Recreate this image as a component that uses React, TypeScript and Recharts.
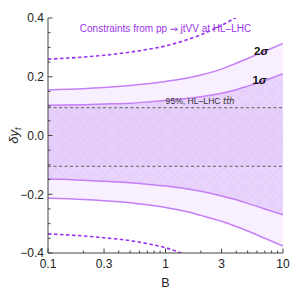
import React from 'react';
import {
  ComposedChart, Area, Line, XAxis, YAxis, ReferenceLine, ReferenceArea, ReferenceDot, Label,
} from 'recharts';

// ---- data ----
const B = [0.1, 0.2, 0.3, 0.5, 0.7, 1, 1.5, 2, 3, 4, 5, 7, 10];
const oneSigmaUpper = [0.103, 0.105, 0.107, 0.110, 0.114, 0.119, 0.126, 0.132, 0.144, 0.156, 0.168, 0.187, 0.210];
const oneSigmaLower = [-0.148, -0.152, -0.156, -0.161, -0.166, -0.172, -0.181, -0.190, -0.206, -0.219, -0.231, -0.250, -0.270];
const twoSigmaUpper = [0.155, 0.159, 0.163, 0.170, 0.176, 0.184, 0.195, 0.206, 0.226, 0.246, 0.262, 0.287, 0.313];
const twoSigmaLower = [-0.214, -0.218, -0.222, -0.229, -0.236, -0.245, -0.259, -0.272, -0.292, -0.310, -0.325, -0.350, -0.376];

const dashedUpperB = [0.1, 0.2, 0.3, 0.5, 0.7, 1, 1.5, 2, 3, 4];
const dashedUpperY = [0.260, 0.267, 0.273, 0.284, 0.293, 0.305, 0.325, 0.343, 0.375, 0.402];
const dashedLowerB = [0.1, 0.2, 0.3, 0.5, 0.7, 1, 1.4];
const dashedLowerY = [-0.335, -0.342, -0.348, -0.358, -0.368, -0.382, -0.402];

const tthUpper = 0.095;
const tthLower = -0.105;

const xMajorTicks = [0.1, 0.3, 1, 3, 10];
const xMinorTicks = [0.2, 0.4, 0.5, 0.6, 0.7, 0.8, 0.9, 2, 4, 5, 6, 7, 8, 9];
const yMajorTicks = [-0.4, -0.2, 0, 0.2, 0.4];
const yMinorTicks = [-0.35, -0.3, -0.25, -0.15, -0.1, -0.05, 0.05, 0.1, 0.15, 0.25, 0.3, 0.35];

const titleBefore = 'Constraints from pp ';
const titleArrow = '\u2192';
const titleAfter = ' jtVV at HL\u2013LHC';
const tthLabel = '95%, HL\u2013LHC ';

// ---- tables built from the arrays ----
const bandData = B.map((b, i) => ({
  B: b,
  hi1: oneSigmaUpper[i],
  lo1: oneSigmaLower[i],
  hi2: twoSigmaUpper[i],
  lo2: twoSigmaLower[i],
}));
const upperDashedData = dashedUpperB.map((b, i) => ({ B: b, y: dashedUpperY[i] }));
const lowerDashedData = dashedLowerB.map((b, i) => ({ B: b, y: dashedLowerY[i] }));

const xTicks = [...xMajorTicks, ...xMinorTicks].sort((a, b) => a - b);
const yTicks = [...yMajorTicks, ...yMinorTicks].sort((a, b) => a - b);

// ---- styles ----
const FONT = '"Liberation Sans", Arial, sans-serif';
const AXIS = '#444444';
const PURPLE_TEXT = '#9a35e6';
const PURPLE_DASH = '#9b2ff0';
const LINE = '#c47ef6';
const FILL2 = '#f8f0ff';
const FILL1 = '#e9d4fc';

const isMajor = (v: number, arr: number[]) => arr.some((m) => Math.abs(m - v) < 1e-9);
const fmtX = (v: number) => (v < 1 ? v.toFixed(1) : String(v));
const fmtY = (v: number) => {
  const s = Math.abs(v).toFixed(1);
  return v < -1e-9 ? '\u2212' + s : s;
};

const BottomTick = (props: any) => {
  const { x, y, payload } = props;
  const major = isMajor(payload.value, xMajorTicks);
  return (
    <g>
      <line x1={x} x2={x} y1={y} y2={y - (major ? 4.5 : 2.5)} stroke={AXIS} strokeWidth={1} />
      {major && (
        <text x={x} y={y + 15} textAnchor="middle" fontFamily={FONT} fontSize={12} fill="#222">
          {fmtX(payload.value)}
        </text>
      )}
    </g>
  );
};

const TopTick = (props: any) => {
  const { x, y, payload } = props;
  const major = isMajor(payload.value, xMajorTicks);
  return <line x1={x} x2={x} y1={y} y2={y + (major ? 4.5 : 2.5)} stroke={AXIS} strokeWidth={1} />;
};

const LeftTick = (props: any) => {
  const { x, y, payload } = props;
  const major = isMajor(payload.value, yMajorTicks);
  return (
    <g>
      <line x1={x} x2={x + (major ? 4.5 : 2.5)} y1={y} y2={y} stroke={AXIS} strokeWidth={1} />
      {major && (
        <text x={x - 4} y={y + 4.3} textAnchor="end" fontFamily={FONT} fontSize={12} fill="#222">
          {fmtY(payload.value)}
        </text>
      )}
    </g>
  );
};

const RightTick = (props: any) => {
  const { x, y, payload } = props;
  const major = isMajor(payload.value, yMajorTicks);
  return <line x1={x} x2={x - (major ? 4.5 : 2.5)} y1={y} y2={y} stroke={AXIS} strokeWidth={1} />;
};

const YLabel = (props: any) => {
  const vb = props.viewBox || { x: 0, y: 18, width: 48, height: 235 };
  const cx = vb.x + 18;
  const cy = vb.y + vb.height / 2;
  return (
    <text
      transform={`translate(${cx},${cy}) rotate(-90)`}
      textAnchor="middle"
      fontFamily={FONT}
      fontSize={13}
      fill="#222"
    >
      <tspan fontStyle="italic">{'\u03B4y'}</tspan>
      <tspan fontStyle="italic" fontSize={9} dy={3}>t</tspan>
    </text>
  );
};

const XLabel = (props: any) => {
  const vb = props.viewBox || { x: 48, y: 253, width: 235, height: 40 };
  return (
    <text x={vb.x + vb.width / 2} y={vb.y + 34} textAnchor="middle" fontFamily={FONT} fontSize={12.5} fill="#222">
      B
    </text>
  );
};

const makeText = (content: React.ReactNode, opts: { size: number; fill: string; weight?: string; anchor?: string }) =>
  (props: any) => {
    const vb = props.viewBox || { x: 0, y: 0 };
    const x = vb.x + (vb.width || 0) / 2;
    const y = vb.y + (vb.height || 0) / 2;
    return (
      <text
        x={x}
        y={y}
        dy="0.35em"
        textAnchor={opts.anchor || 'middle'}
        fontFamily={FONT}
        fontSize={opts.size}
        fontWeight={opts.weight || 'normal'}
        fill={opts.fill}
      >
        {content}
      </text>
    );
  };

const TitleContent = makeText(
  <>
    <tspan>{titleBefore}</tspan>
    <tspan fontFamily='"DejaVu Sans", sans-serif' fontSize={9.5}>{titleArrow}</tspan>
    <tspan>{titleAfter}</tspan>
  </>,
  { size: 10, fill: PURPLE_TEXT },
);
const TwoSigmaContent = makeText(
  <>
    <tspan>2</tspan>
    <tspan fontStyle="italic">{'\u03C3'}</tspan>
  </>,
  { size: 11.5, fill: '#111', weight: 'bold' },
);
const OneSigmaContent = makeText(
  <>
    <tspan>1</tspan>
    <tspan fontStyle="italic">{'\u03C3'}</tspan>
  </>,
  { size: 11.5, fill: '#111', weight: 'bold' },
);
const TthContent = makeText(
  <>
    <tspan>{tthLabel}</tspan>
    <tspan fontStyle="italic" fontFamily='"DejaVu Sans", sans-serif' fontSize={8.2}>{'tt\u0304h'}</tspan>
  </>,
  { size: 8.6, fill: '#333' },
);

export default function App() {
  return (
    <div style={{ position: 'absolute', left: 0, top: 0, width: 291, height: 293, background: '#fff' }}>
      <ComposedChart width={291} height={293} data={bandData} margin={{ top: 18, right: 8, bottom: 0, left: 0 }}>
        <defs>
          <pattern id="hatch" patternUnits="userSpaceOnUse" width="14" height="14">
            <path d="M0,0 L14,14 M14,0 L0,14" stroke="#d9bbf6" strokeWidth="0.45" fill="none" />
            <path d="M7,0 L7,14 M0,7 L14,7" stroke="#dfc6f8" strokeWidth="0.35" fill="none" />
          </pattern>
        </defs>
        <XAxis
          dataKey="B"
          type="number"
          scale="log"
          domain={[0.1, 10]}
          allowDataOverflow
          ticks={xTicks}
          interval={0}
          tickSize={0}
          tickMargin={0}
          tick={<BottomTick />}
          tickLine={false}
          axisLine={{ stroke: AXIS }}
          height={40}
        >
          <Label content={<XLabel />} />
        </XAxis>
        <XAxis
          xAxisId="top"
          orientation="top"
          dataKey="B"
          type="number"
          scale="log"
          domain={[0.1, 10]}
          allowDataOverflow
          ticks={xTicks}
          interval={0}
          tickSize={0}
          tickMargin={0}
          tick={<TopTick />}
          tickLine={false}
          axisLine={{ stroke: AXIS }}
          height={0}
        />
        <YAxis
          type="number"
          domain={[-0.4, 0.4]}
          allowDataOverflow
          ticks={yTicks}
          interval={0}
          tickSize={0}
          tickMargin={0}
          tick={<LeftTick />}
          tickLine={false}
          axisLine={{ stroke: AXIS }}
          width={48}
        >
          <Label content={<YLabel />} />
        </YAxis>
        <YAxis
          yAxisId="right"
          orientation="right"
          type="number"
          domain={[-0.4, 0.4]}
          allowDataOverflow
          ticks={yTicks}
          interval={0}
          tickSize={0}
          tickMargin={0}
          tick={<RightTick />}
          tickLine={false}
          axisLine={{ stroke: AXIS }}
          width={0}
        />

        <Area
          type="monotone"
          dataKey={(d: any) => [d.lo2, d.hi2]}
          fill={FILL2}
          fillOpacity={1}
          stroke="none"
          isAnimationActive={false}
          activeDot={false}
        />
        <Area
          type="monotone"
          dataKey={(d: any) => [d.lo1, d.hi1]}
          fill={FILL1}
          fillOpacity={1}
          stroke="none"
          isAnimationActive={false}
          activeDot={false}
        />
        <Area
          type="monotone"
          dataKey={(d: any) => [d.lo1, d.hi1]}
          fill="url(#hatch)"
          fillOpacity={1}
          stroke="none"
          isAnimationActive={false}
          activeDot={false}
        />
        <ReferenceArea y1={tthLower} y2={tthUpper} fill="#d9b9f7" fillOpacity={0.15} stroke="none" />
        <ReferenceLine y={tthUpper} stroke="#7a7a7a" strokeWidth={1.3} strokeDasharray="3 2.5" />
        <ReferenceLine y={tthLower} stroke="#7a7a7a" strokeWidth={1.3} strokeDasharray="3 2.5" />

        <Line type="monotone" dataKey="hi2" stroke={LINE} strokeWidth={1.5} dot={false} activeDot={false} isAnimationActive={false} />
        <Line type="monotone" dataKey="lo2" stroke={LINE} strokeWidth={1.5} dot={false} activeDot={false} isAnimationActive={false} />
        <Line type="monotone" dataKey="hi1" stroke={LINE} strokeWidth={1.5} dot={false} activeDot={false} isAnimationActive={false} />
        <Line type="monotone" dataKey="lo1" stroke={LINE} strokeWidth={1.5} dot={false} activeDot={false} isAnimationActive={false} />
        <Line
          data={upperDashedData}
          type="monotone"
          dataKey="y"
          stroke={PURPLE_DASH}
          strokeWidth={1.6}
          strokeDasharray="3.5 2.5"
          dot={false}
          activeDot={false}
          isAnimationActive={false}
        />
        <Line
          data={lowerDashedData}
          type="monotone"
          dataKey="y"
          stroke={PURPLE_DASH}
          strokeWidth={1.6}
          strokeDasharray="3.5 2.5"
          dot={false}
          activeDot={false}
          isAnimationActive={false}
        />

        <ReferenceDot x={1} y={0.365} r={0} fill="none" stroke="none" label={<TitleContent />} />
        <ReferenceDot x={6.5} y={0.288} r={0} fill="none" stroke="none" label={<TwoSigmaContent />} />
        <ReferenceDot x={6.3} y={0.19} r={0} fill="none" stroke="none" label={<OneSigmaContent />} />
        <ReferenceDot x={1.97} y={0.117} r={0} fill="none" stroke="none" label={<TthContent />} />
      </ComposedChart>
    </div>
  );
}
